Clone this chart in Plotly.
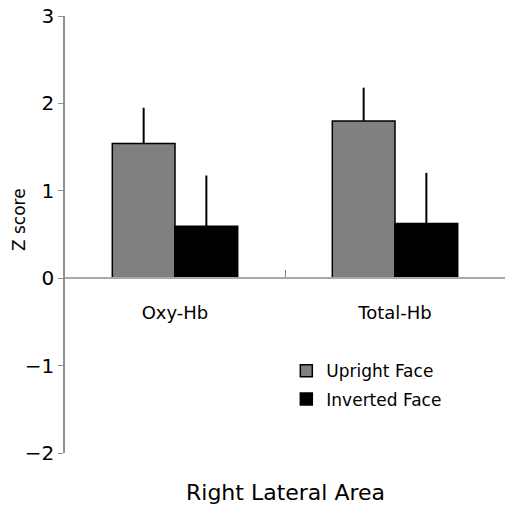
import plotly.graph_objects as go

categories = ["Oxy-Hb", "Total-Hb"]
upright = [1.54, 1.80]
upright_err = [0.41, 0.38]
inverted = [0.595, 0.625]
inverted_err = [0.58, 0.58]
series_names = ["Upright Face", "Inverted Face"]
y_ticks = [-2, -1, 0, 1, 2, 3]

FONT = "DejaVu Sans"

fig = go.Figure()
fig.add_trace(go.Bar(
    x=categories, y=upright, name=series_names[0], legendgroup="a",
    marker=dict(color="#808080", line=dict(color="black", width=1.5)),
    error_y=dict(type="data", array=upright_err, arrayminus=[0, 0],
                 symmetric=False, color="black", thickness=2, width=0),
))
fig.add_trace(go.Bar(
    x=categories, y=inverted, name=series_names[1], legendgroup="b",
    marker=dict(color="black", line=dict(color="black", width=1.5)),
    error_y=dict(type="data", array=inverted_err, arrayminus=[0, 0],
                 symmetric=False, color="black", thickness=2, width=0),
))

fig.update_layout(
    width=508, height=513,
    margin=dict(l=65, r=3, t=16, b=60, autoexpand=False),
    paper_bgcolor="white", plot_bgcolor="white",
    barmode="group", bargap=0.43, bargroupgap=0,
    font=dict(family=FONT, color="black"),
    showlegend=True,
    legend=dict(x=0.503, y=0.155, xanchor="left", yanchor="middle",
                font=dict(size=17, family=FONT, color="black"), bgcolor="rgba(0,0,0,0)",
                traceorder="grouped", tracegroupgap=3),
    xaxis=dict(
        anchor="free", position=0.4, automargin=False,
        showline=True, linecolor="#a8a8a8", linewidth=1.5,
        ticks="inside", tickson="boundaries", ticklen=7, tickcolor="#808080",
        tickfont=dict(size=18, family=FONT, color="black"), ticklabelstandoff=18,
        showgrid=False, zeroline=False,
    ),
    yaxis=dict(
        range=[-2, 3], tickvals=y_ticks, automargin=False,
        ticklabeloverflow="allow",
        showline=True, linecolor="#909090", linewidth=1.5,
        ticks="outside", ticklen=5, tickcolor="#909090",
        tickfont=dict(size=20, family=FONT, color="black"),
        showgrid=False, zeroline=False,
    ),
    annotations=[
        dict(text="Right Lateral Area", x=0.5, y=-0.0915, xref="paper", yref="paper",
             xanchor="center", yanchor="middle", showarrow=False,
             font=dict(size=22, family=FONT, color="black")),
        dict(text="Z score", x=-0.1045, y=0.533, xref="paper", yref="paper",
             xanchor="center", yanchor="middle", showarrow=False, textangle=-90,
             font=dict(size=17, family=FONT, color="black")),
    ],
)

fig.write_html("out.html", config={"displayModeBar": False},
               post_script="document.body.style.margin='0';")
